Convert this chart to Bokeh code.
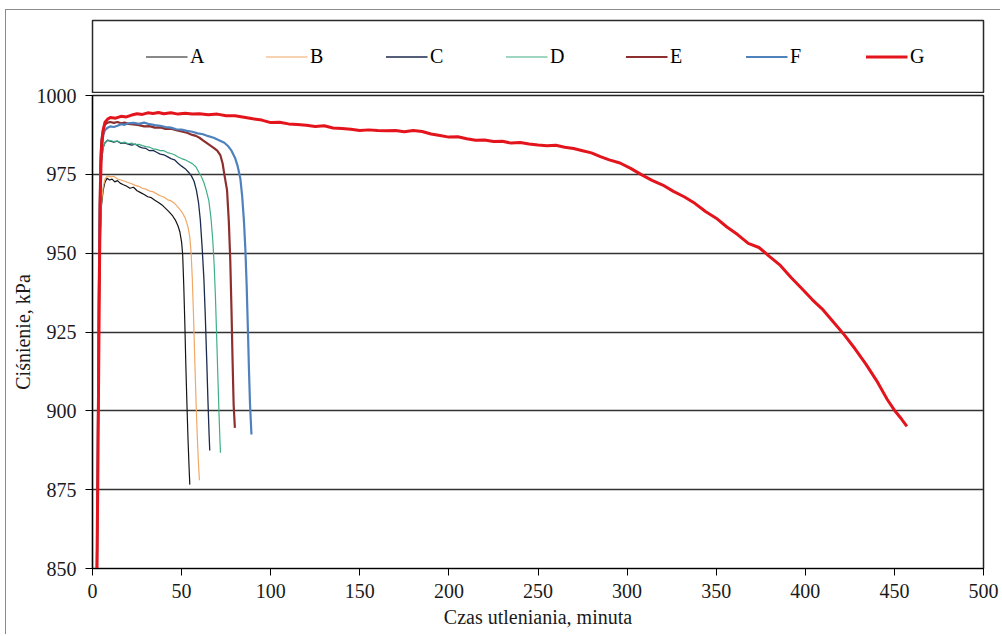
from bokeh.plotting import figure
from bokeh.models import Legend, LegendItem, Range1d, FixedTicker
from bokeh.layouts import column
from bokeh.embed import file_html
from bokeh.resources import INLINE

# ---------------- data ----------------
series_names = ["A", "B", "C", "D", "E", "F", "G"]
series_colors = ["#141414", "#f0a865", "#1c2a4d", "#3fae86", "#8e2f2f", "#4f81bd", "#e3141c"]
series_widths = [1.2, 1.2, 1.3, 1.2, 2.2, 2.2, 3.0]

x_ticks = [0, 50, 100, 150, 200, 250, 300, 350, 400, 450, 500]
y_ticks = [850, 875, 900, 925, 950, 975, 1000]

A_t = [2.5, 3.0, 3.5, 4.0, 4.5, 5.0, 6.0, 7.0, 8.2, 9.5, 11, 12.5, 14, 15.5, 17, 19, 21, 23, 25, 27,
       29, 31, 33, 35, 37, 39, 41, 43, 45, 46.5, 48, 49, 50, 50.6, 51.2, 51.8, 52.4, 53.0, 53.6, 54.2, 54.6]
A_p = [850, 880, 912, 940, 957, 965, 970, 972.5, 973.8, 973.2, 973.5, 972.6, 973, 972.2, 971.8, 971.3,
       970.6, 970.9, 969.8, 969.2, 968.6, 967.9, 967.6, 966.8, 966.1, 965.3, 964.2, 963.1, 961.8, 960.5,
       958.6, 956.8, 953.5, 949.5, 940, 928, 914, 902, 891, 882, 876.6]

B_t = [2.5, 3.0, 3.5, 4.0, 4.5, 5.0, 6.0, 7.0, 8.5, 10, 12, 14, 16, 18, 20, 22, 24, 26, 28, 30, 32, 34,
       36, 38, 40, 42, 44, 46, 48, 50, 52, 53.5, 54.5, 55.3, 56, 56.7, 57.4, 58.1, 58.8, 59.4, 60]
B_p = [850, 880, 912, 940, 958, 966, 971, 973.5, 974.6, 974.2, 974.4, 973.5, 973.2, 972.8, 972.4, 972,
       971.5, 971.2, 970.6, 970.3, 969.7, 969.5, 968.8, 968.2, 967.8, 967, 966.6, 965.8, 964.6, 963.2,
       961.2, 958.5, 955.5, 950.5, 942, 930, 916, 903, 892, 884, 878]

C_t = [2.5, 3.0, 3.5, 4.0, 4.5, 5.0, 6.0, 7.0, 8.5, 10, 12, 14, 16, 18, 20, 22, 24, 26, 28, 30, 32, 34,
       36, 38, 40, 42, 44, 46, 48, 50, 52, 54, 55.5, 57, 58.3, 59.5, 60.5, 61.5, 62.5, 63.3, 64.1, 64.8,
       65.4, 65.8]
C_p = [850, 885, 925, 955, 972, 979, 983.5, 985, 985.8, 985.5, 985.2, 985.5, 984.8, 985, 984.6, 984.3,
       984.6, 983.8, 983.4, 983.2, 982.5, 982.6, 982, 981.4, 981.2, 980.6, 980, 979.6, 978.5, 977.6,
       976.8, 975.6, 974.5, 972.8, 970, 966, 960.5, 952, 942, 930, 916, 903, 893, 887.4]

D_t = [2.5, 3.0, 3.5, 4.0, 4.5, 5.0, 6.0, 7.0, 8.5, 10, 12, 14, 16, 18, 20, 22, 24, 26, 28, 30, 32, 34,
       36, 38, 40, 42, 44, 46, 48, 50, 52, 54, 56, 58, 59.7, 61, 62.5, 63.8, 65.3, 66.5, 67.5, 68.3, 69,
       69.7, 70.4, 71, 71.5, 71.8]
D_p = [850, 885, 925, 955, 972, 979, 983.5, 985, 985.9, 985.7, 985.4, 985.6, 985, 985.2, 984.7, 984.9,
       984.4, 984.5, 984.1, 983.8, 983.6, 983.1, 982.9, 982.5, 982.5, 981.9, 981.6, 981.2, 980.5, 980,
       979.6, 979, 978.4, 977.4, 975.6, 974.4, 972.4, 970, 966.6, 961, 954, 946, 936, 923, 910, 899,
       891, 886.7]

E_t = [2.5, 3.0, 3.5, 4.0, 4.5, 5.0, 6.0, 7.0, 8.5, 10, 12, 14, 16, 18, 20, 23, 26, 29, 32, 35, 38, 41,
       44, 47, 50, 53, 56, 58, 60, 62, 64, 66, 68, 70, 71.8, 73, 74.1, 75.5, 76.5, 77.3, 78, 78.6, 79.2,
       79.9]
E_p = [850, 890, 935, 965, 980, 986, 989.5, 990.8, 991.4, 991.6, 991.3, 991.6, 991.2, 991.4, 991, 990.8,
       990.6, 990.2, 990.3, 989.8, 989.9, 989.4, 989.5, 989, 988.6, 988.2, 987.5, 987.2, 986.6, 985.8,
       985, 984.2, 983.4, 982.5, 981, 978.5, 974.6, 970, 960, 948, 932, 916, 902, 894.6]

F_t = [2.5, 3.0, 3.5, 4.0, 4.5, 5.0, 6.0, 7.0, 8.5, 10, 12, 14, 16, 18, 20, 23, 26, 29, 32, 35, 38, 41,
       44, 47, 50, 53, 56, 59, 62, 65, 68, 71, 74, 76, 78, 80, 81.5, 83, 84, 85, 85.8, 86.5, 87.2, 87.8,
       88.4, 89.2]
F_p = [850, 888, 930, 960, 976, 983, 987.5, 989, 989.8, 990.2, 990, 990.4, 990.9, 990.7, 991.2, 991.3,
       991, 991.4, 990.9, 990.6, 990.4, 990, 989.8, 989.3, 989.2, 988.8, 988.5, 988, 987.7, 987.1, 986.6,
       985.8, 985, 984, 982.5, 980.2, 977.5, 973.5, 968, 960, 951, 940, 926, 913, 902, 892.5]

G_t = [2.5, 3.0, 3.5, 4.0, 4.5, 5.0, 6.0, 7.0, 8.5, 10,
       13, 16, 19, 22, 25, 28, 31, 34, 37, 40,
       44, 48, 52, 56, 60,
       65, 70, 75, 80, 85, 90, 95, 100, 105, 110, 115, 120, 125, 130, 135, 140, 145, 150, 155, 160,
       165, 170, 175, 180, 185, 190, 195, 200, 205, 210, 215, 220, 225, 230, 235, 240, 245, 250, 255,
       260, 265, 270, 275, 280, 285, 290,
       296, 302, 308, 314, 320, 326, 332, 338, 344, 350, 356, 362, 368, 374, 380, 386, 392, 398, 404,
       410, 416, 422, 428, 434, 440, 446,
       450, 454, 457]
G_p = [850, 880, 915, 950, 972, 983, 989, 991.5, 992.5, 993,
       992.8, 993.4, 993.2, 993.8, 994.2, 994, 994.5, 994.3, 994.6, 994.2,
       994.5, 994.1, 994.4, 994.1, 994.2,
       993.9, 994.1, 993.6, 993.6, 993.1, 992.6, 992.2, 991.4, 991.5, 991, 990.8, 990.6, 990.2, 990.4,
       989.7, 989.5, 989.3, 988.9, 989.1, 988.9, 988.8, 988.9, 988.5, 988.9, 988.6, 987.8, 987.3,
       986.8, 986.9, 986.3, 985.8, 985.9, 985.4, 985.5, 984.9, 985.1, 984.6, 984.3, 984.1, 984.2,
       983.6, 983.2, 982.5, 981.8, 980.6, 979.6,
       978.6, 976.9, 974.9, 973.1, 971.6, 969.6, 967.9, 965.8, 963.2, 961.1, 958.3, 955.9, 953.1,
       951.8, 948.9, 946.1, 942.3, 938.8, 935.2, 932, 928, 924, 919.6, 914.8, 909.6, 903.6,
       900.2, 897.4, 895.1]

series_t = [A_t, B_t, C_t, D_t, E_t, F_t, G_t]
series_p = [A_p, B_p, C_p, D_p, E_p, F_p, G_p]

x_label = "Czas utleniania, minuta"
y_label = "Ciśnienie, kPa"

SERIF = "Liberation Serif"
W = 994
OVERLAP = 11

# ---------------- legend strip (its frame is the legend box) ----------------
lf = figure(width=W, height=83, x_range=Range1d(0, 1), y_range=Range1d(0, 1),
            output_backend="svg", toolbar_location=None,
            min_border_left=86, min_border_right=W - 979, min_border_top=10, min_border_bottom=1)
lf.axis.visible = False
lf.grid.visible = False
lf.outline_line_color = "#2a2a2a"
lf.outline_line_width = 1.5
lf.background_fill_color = "white"

items = []
for name, col, lw in zip(series_names, series_colors, series_widths):
    # sample renderers, placed outside the strip's range: only their legend glyphs are seen
    r = lf.line(x=[5, 6], y=[5, 5], line_color=col, line_width=lw)
    items.append(LegendItem(label=name, renderers=[r]))

legend = Legend(items=items, orientation="horizontal", location="center",
                border_line_color=None, background_fill_alpha=0,
                glyph_width=42, glyph_height=18, label_standoff=3, spacing=55,
                label_text_font=SERIF, label_text_font_size="20px", label_text_color="black",
                padding=0, margin=0)
lf.add_layout(legend, "center")

# ---------------- main plot ----------------
p = figure(width=W, height=552, x_range=Range1d(0, 500), y_range=Range1d(850, 1000),
           output_backend="svg", toolbar_location=None,
           min_border_left=86, min_border_right=W - 977, min_border_top=13, min_border_bottom=66,
           margin=(-OVERLAP, 0, 0, 0))
p.border_fill_alpha = 0

for t, pr, col, lw in zip(series_t, series_p, series_colors, series_widths):
    p.line(t, pr, line_color=col, line_width=lw)

p.outline_line_color = "#222222"
p.outline_line_width = 1.5
p.xgrid.visible = False
p.ygrid.ticker = FixedTicker(ticks=y_ticks)
p.ygrid.grid_line_color = "#333333"
p.ygrid.grid_line_width = 1.5

p.xaxis.ticker = FixedTicker(ticks=x_ticks)
p.yaxis.ticker = FixedTicker(ticks=y_ticks)
for ax in (p.xaxis[0], p.yaxis[0]):
    ax.axis_line_color = "black"
    ax.axis_line_width = 1.2
    ax.major_tick_line_color = "black"
    ax.major_tick_out = 7
    ax.major_tick_in = 0
    ax.minor_tick_line_color = None
    ax.major_label_text_font = SERIF
    ax.major_label_text_font_size = "20px"
    ax.major_label_text_color = "#1a1a1a"
    ax.axis_label_text_font = SERIF
    ax.axis_label_text_font_size = "20px"
    ax.axis_label_text_font_style = "normal"
    ax.axis_label_text_color = "#1a1a1a"

p.xaxis.axis_label = x_label
p.yaxis.axis_label = y_label
p.xaxis.major_label_standoff = 8
p.xaxis.axis_label_standoff = 5
p.yaxis.major_label_standoff = 9
p.yaxis.axis_label_standoff = 0

layout = column(lf, p, margin=(9, 0, 0, 5),
                styles={"border-top": "1px solid #8a8a8a", "border-left": "1px solid #8a8a8a"})

open("out.html", "w").write(file_html(layout, INLINE))
